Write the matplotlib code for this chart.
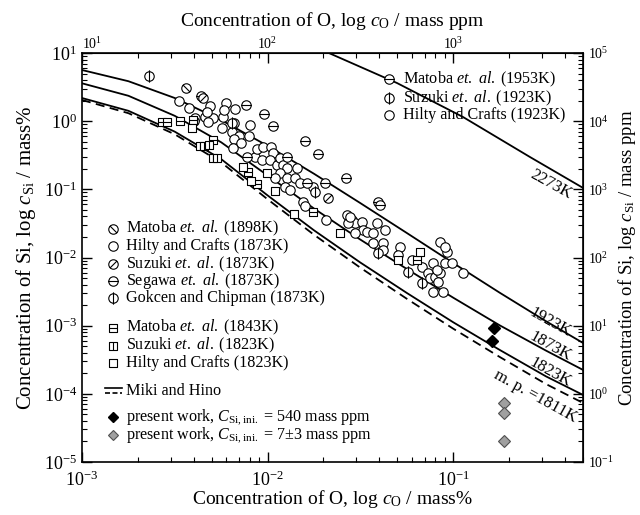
import numpy as np
import matplotlib.pyplot as plt
from matplotlib.path import Path
from matplotlib.ticker import LogLocator, NullFormatter

plt.rcParams['font.family'] = 'Liberation Serif'
plt.rcParams['mathtext.fontset'] = 'custom'
plt.rcParams['mathtext.rm'] = 'Liberation Serif'
plt.rcParams['mathtext.it'] = 'Liberation Serif:italic'
plt.rcParams['mathtext.bf'] = 'Liberation Serif:bold'

# equilibrium curves (Miki and Hino), O and Si in mass%
o_grid = [0.001, 0.00178, 0.00316, 0.00562, 0.01, 0.0178, 0.0316, 0.0562, 0.1, 0.178, 0.316, 0.5]
si_1923 = [5.64, 3.86, 2.19, 1.04, 0.435, 0.169, 0.0628, 0.0229, 0.00828, 0.00304, 0.00116, 0.000557]
si_1873 = [3.60, 2.36, 1.20, 0.491, 0.160, 0.0522, 0.0183, 0.00679, 0.00257, 0.00101, 0.000430, 0.000224]
si_1823 = [2.19, 1.42, 0.703, 0.278, 0.0815, 0.0250, 0.00843, 0.00302, 0.00112, 0.000440, 0.000180, 0.0000962]
si_1811 = [2.05, 1.31, 0.643, 0.249, 0.0715, 0.0215, 0.00708, 0.00248, 0.000902, 0.000347, 0.000139, 0.0000734]
o_2273 = [0.015, 0.0214, 0.0498, 0.113, 0.259, 0.5]
si_2273 = [15.4, 10.0, 3.63, 1.15, 0.298, 0.105]

# literature data, mass%
o_matoba1953 = [0.00765, 0.00956, 0.0107, 0.0159, 0.0187, 0.0264, 0.0394, 0.0404]
si_matoba1953 = [1.73, 1.27, 0.849, 0.512, 0.330, 0.147, 0.0652, 0.0589]
o_suzuki1923 = [0.00230]
si_suzuki1923 = [4.60]
o_hilty1923 = [0.00333, 0.00377, 0.00489, 0.00597, 0.00582, 0.00667, 0.00471, 0.0849, 0.0904, 0.113, 0.0278]
si_hilty1923 = [1.98, 1.56, 1.67, 1.85, 1.46, 1.51, 1.36, 0.0169, 0.0143, 0.00593, 0.0393]
o_matoba1898 = [0.00363]
si_matoba1898 = [3.07]
o_hilty1873 = [0.00460, 0.00406, 0.00401, 0.00508, 0.00477, 0.00575, 0.00659, 0.00568, 0.00643, 0.00701,
               0.00804, 0.00794, 0.00659, 0.00719, 0.00651, 0.00855, 0.00877, 0.00944, 0.0104, 0.0107,
               0.00933, 0.0103, 0.0112, 0.0117, 0.0121, 0.0127, 0.0144, 0.0117, 0.0110, 0.0127,
               0.0141, 0.0150, 0.0176, 0.0124, 0.0132, 0.0155, 0.0159, 0.0206, 0.0268, 0.0285,
               0.0296, 0.0323, 0.0327, 0.0343, 0.0370, 0.0388, 0.0271, 0.0296, 0.0429, 0.0370,
               0.0419, 0.0517, 0.0419, 0.0504, 0.0600, 0.0679, 0.0731, 0.0778, 0.0927, 0.0904,
               0.0986, 0.0750, 0.0798, 0.0849, 0.0828, 0.0778, 0.0881, 0.0818]
si_hilty1873 = [1.15, 1.11, 1.01, 1.11, 0.973, 1.15, 0.940, 0.794, 0.694, 0.606,
                0.879, 0.606, 0.547, 0.479, 0.404, 0.298, 0.391, 0.418, 0.418, 0.341,
                0.269, 0.269, 0.228, 0.288, 0.228, 0.206, 0.206, 0.174, 0.147, 0.147,
                0.147, 0.124, 0.108, 0.108, 0.0977, 0.0652, 0.0570, 0.0355, 0.0421, 0.0355,
                0.0321, 0.0332, 0.0253, 0.0237, 0.0229, 0.0321, 0.0321, 0.0229, 0.0253, 0.0163,
                0.0163, 0.0143, 0.0129, 0.0109, 0.00919, 0.00726, 0.00593, 0.00830, 0.0121, 0.00830,
                0.00830, 0.00500, 0.00518, 0.00593, 0.00438, 0.00312, 0.00312, 0.00656]
o_suzuki1873 = [0.0211, 0.00449]
si_suzuki1873 = [0.0746, 2.19]
o_segawa1873 = [0.00438, 0.0127, 0.0163, 0.0204, 0.00774]
si_segawa1873 = [2.34, 0.298, 0.124, 0.124, 0.298]
o_gokcen1873 = [0.0180, 0.0394, 0.0571, 0.0679, 0.00643]
si_gokcen1873 = [0.0914, 0.0116, 0.00612, 0.00423, 0.940]
o_matoba1843 = [0.00270, 0.00287, 0.00337, 0.00396, 0.00508, 0.00784, 0.00877, 0.0176, 0.0638]
si_matoba1843 = [0.973, 0.973, 1.01, 1.04, 0.530, 0.180, 0.120, 0.0466, 0.00919]
o_suzuki1823 = [0.00432, 0.00454, 0.00483, 0.00508, 0.00534]
si_suzuki1823 = [0.433, 0.433, 0.447, 0.288, 0.288]
o_hilty1823 = [0.00391, 0.00736, 0.00814, 0.00993, 0.0110, 0.0139, 0.0245, 0.0504, 0.0662]
si_hilty1823 = [0.794, 0.213, 0.132, 0.174, 0.0946, 0.0435, 0.0229, 0.00919, 0.0121]

# present work
o_pw540 = [0.166, 0.162]
si_pw540 = [0.000925, 0.000596]
o_pw7 = [0.188, 0.188, 0.188]
si_pw7 = [0.0000735, 0.0000524, 0.0000203]


def marker(shape, line):
    if shape == 'o':
        base = Path.unit_circle()
    else:
        base = Path([(-1, -1), (1, -1), (1, 1), (-1, 1), (-1, -1)],
                    [Path.MOVETO, Path.LINETO, Path.LINETO, Path.LINETO, Path.CLOSEPOLY])
    segs = {'h': [(-1, 0), (1, 0)], 'v': [(0, -1), (0, 1)],
            'vv': [(0, -1.3), (0, 1.3)],
            '/': [(-0.71, -0.71), (0.71, 0.71)], '\\': [(-0.71, 0.71), (0.71, -0.71)]}
    if line is None:
        return base
    return Path.make_compound_path(base, Path(segs[line], [Path.MOVETO, Path.LINETO]))


m_circ = marker('o', None)
m_h = marker('o', 'h')
m_phi = marker('o', 'vv')
m_slash = marker('o', '/')
m_bslash = marker('o', '\\')
m_sq = marker('s', None)
m_sqh = marker('s', 'h')
m_sqv = marker('s', 'v')

fig = plt.figure(figsize=(6.4, 5.15), dpi=100)
ax = fig.add_axes([0.128, 0.103, 0.783, 0.794])
ax.set_xscale('log')
ax.set_yscale('log')
ax.set_xlim(1e-3, 0.5)
ax.set_ylim(1e-5, 10)

lw = 1.3
for si in [si_1923, si_1873, si_1823]:
    ax.plot(o_grid, si, color='black', lw=lw, zorder=1)
ax.plot(o_grid, si_1811, color='black', lw=lw, ls=(0, (5, 3)), zorder=1)
ax.plot(o_2273, si_2273, color='black', lw=lw, zorder=1)

ms = 6.8
pt_kw = dict(ls='none', mfc='white', mec='black', mew=0.8, zorder=3)
series = [(o_hilty1873, si_hilty1873, m_circ, ms),
          (o_hilty1923, si_hilty1923, m_circ, ms),
          (o_matoba1953, si_matoba1953, m_h, ms),
          (o_segawa1873, si_segawa1873, m_h, ms),
          (o_suzuki1923, si_suzuki1923, m_phi, ms * 1.3),
          (o_gokcen1873, si_gokcen1873, m_phi, ms * 1.3),
          (o_matoba1898, si_matoba1898, m_bslash, ms),
          (o_suzuki1873, si_suzuki1873, m_slash, ms),
          (o_matoba1843, si_matoba1843, m_sqh, ms * 0.95),
          (o_suzuki1823, si_suzuki1823, m_sqv, ms * 0.95),
          (o_hilty1823, si_hilty1823, m_sq, ms * 0.95)]
for xs, ys, m, s in series:
    ax.plot(xs, ys, marker=m, ms=s, **pt_kw)

ax.plot(o_pw540, si_pw540, ls='none', marker='D', ms=6, mfc='black', mec='black', zorder=4)
ax.plot(o_pw7, si_pw7, ls='none', marker='D', ms=6, mfc='#a0a0a0', mec='#505050', mew=0.8, zorder=4)

# curve labels
lab_kw = dict(fontsize=12, rotation=-29, ha='center', va='center', rotation_mode='anchor')
ax.text(0.336, 0.116, '2273K', **lab_kw)
ax.text(0.333, 0.00113, '1923K', **lab_kw)
ax.text(0.333, 0.000486, '1873K', **lab_kw)
ax.text(0.333, 0.000202, '1823K', **lab_kw)
ax.text(0.276, 0.000090, 'm. p. =1811K', **lab_kw)

# legends drawn by hand
mk_kw = dict(ls='none', mfc='white', mec='black', mew=0.8, transform=ax.transAxes, clip_on=False)
etal = r'$\it{et.\ al.}\;$'
fs = 11.6
top_entries = [(m_h, ms, 'Matoba ' + etal + '(1953K)'),
               (m_phi, ms * 1.3, 'Suzuki ' + etal + '(1923K)'),
               (m_circ, ms, 'Hilty and Crafts (1923K)')]
for (m, s, txt), yy in zip(top_entries, [0.936, 0.890, 0.848]):
    ax.plot([0.613], [yy], marker=m, ms=s, **mk_kw)
    ax.text(0.641, yy, txt, transform=ax.transAxes, fontsize=fs, va='center')

low_entries = [(m_bslash, ms, 'Matoba ' + etal + '(1898K)', 0.570),
               (m_circ, ms, 'Hilty and Crafts (1873K)', 0.528),
               (m_slash, ms, 'Suzuki ' + etal + '(1873K)', 0.484),
               (m_h, ms, 'Segawa ' + etal + '(1873K)', 0.443),
               (m_phi, ms * 1.3, 'Gokcen and Chipman (1873K)', 0.401),
               (m_sqh, ms * 0.95, 'Matoba ' + etal + '(1843K)', 0.328),
               (m_sqv, ms * 0.95, 'Suzuki ' + etal + '(1823K)', 0.284),
               (m_sq, ms * 0.95, 'Hilty and Crafts (1823K)', 0.242)]
for m, s, txt, yy in low_entries:
    ax.plot([0.062], [yy], marker=m, ms=s, **mk_kw)
    ax.text(0.088, yy, txt, transform=ax.transAxes, fontsize=fs, va='center')

ax.plot([0.046, 0.080], [0.182, 0.182], color='black', lw=1.2, transform=ax.transAxes)
ax.plot([0.046, 0.080], [0.168, 0.168], color='black', lw=1.2, ls=(0, (3, 1.5)), transform=ax.transAxes)
ax.text(0.088, 0.174, 'Miki and Hino', transform=ax.transAxes, fontsize=fs, va='center')

ax.plot([0.062], [0.110], ls='none', marker='D', ms=5, mfc='black', mec='black', transform=ax.transAxes)
ax.text(0.088, 0.110, r'present work, $C_{\rm Si,ini.}$ = 540 mass ppm', transform=ax.transAxes, fontsize=fs, va='center')
ax.plot([0.062], [0.066], ls='none', marker='D', ms=5, mfc='#a0a0a0', mec='#505050', mew=0.8, transform=ax.transAxes)
ax.text(0.088, 0.066, r'present work, $C_{\rm Si,ini.}$ = 7$\pm$3 mass ppm', transform=ax.transAxes, fontsize=fs, va='center')

# axes, ticks
for sp in ax.spines.values():
    sp.set_linewidth(1.2)
ax.xaxis.set_minor_locator(LogLocator(base=10, subs=np.arange(2, 10), numticks=20))
ax.yaxis.set_minor_locator(LogLocator(base=10, subs=np.arange(2, 10), numticks=20))
ax.xaxis.set_minor_formatter(NullFormatter())
ax.yaxis.set_minor_formatter(NullFormatter())
ax.tick_params(which='both', direction='in', labelsize=13, top=False, right=False)
ax.tick_params(which='major', length=7, width=1)
ax.tick_params(which='minor', length=3.5, width=0.8)
ax.tick_params(axis='x', pad=6)

secx = ax.secondary_xaxis('top', functions=(lambda x: x * 1e4, lambda x: x / 1e4))
secy = ax.secondary_yaxis('right', functions=(lambda y: y * 1e4, lambda y: y / 1e4))
for sa in (secx, secy):
    sa.tick_params(which='both', direction='in', labelsize=10)
    sa.tick_params(which='major', length=7, width=1)
    sa.tick_params(which='minor', length=3.5, width=0.8)
secx.tick_params(pad=1)
secx.xaxis.set_minor_locator(LogLocator(base=10, subs=np.arange(2, 10), numticks=20))
secy.yaxis.set_minor_locator(LogLocator(base=10, subs=np.arange(2, 10), numticks=20))
secx.xaxis.set_minor_formatter(NullFormatter())
secy.yaxis.set_minor_formatter(NullFormatter())

ax.set_xlabel(r'Concentration of O, log $c_{\rm O}$ / mass%', fontsize=14, labelpad=-1)
ax.set_ylabel(r'Concentration of Si, log $c_{\rm Si}$ / mass%', fontsize=15, labelpad=4)
secx.set_xlabel(r'Concentration of O, log $c_{\rm O}$ / mass ppm', fontsize=14, labelpad=7)
secy.set_ylabel(r'Concentration of Si, log $c_{\rm Si}$ / mass ppm', fontsize=13.5, labelpad=2)

# the first ppm label sits a little right of the corner in the original
fig.canvas.draw()
for t in secx.get_xticklabels():
    if '{1}' in t.get_text():
        t.set_horizontalalignment('left')

fig.savefig('out.png', dpi=100)
